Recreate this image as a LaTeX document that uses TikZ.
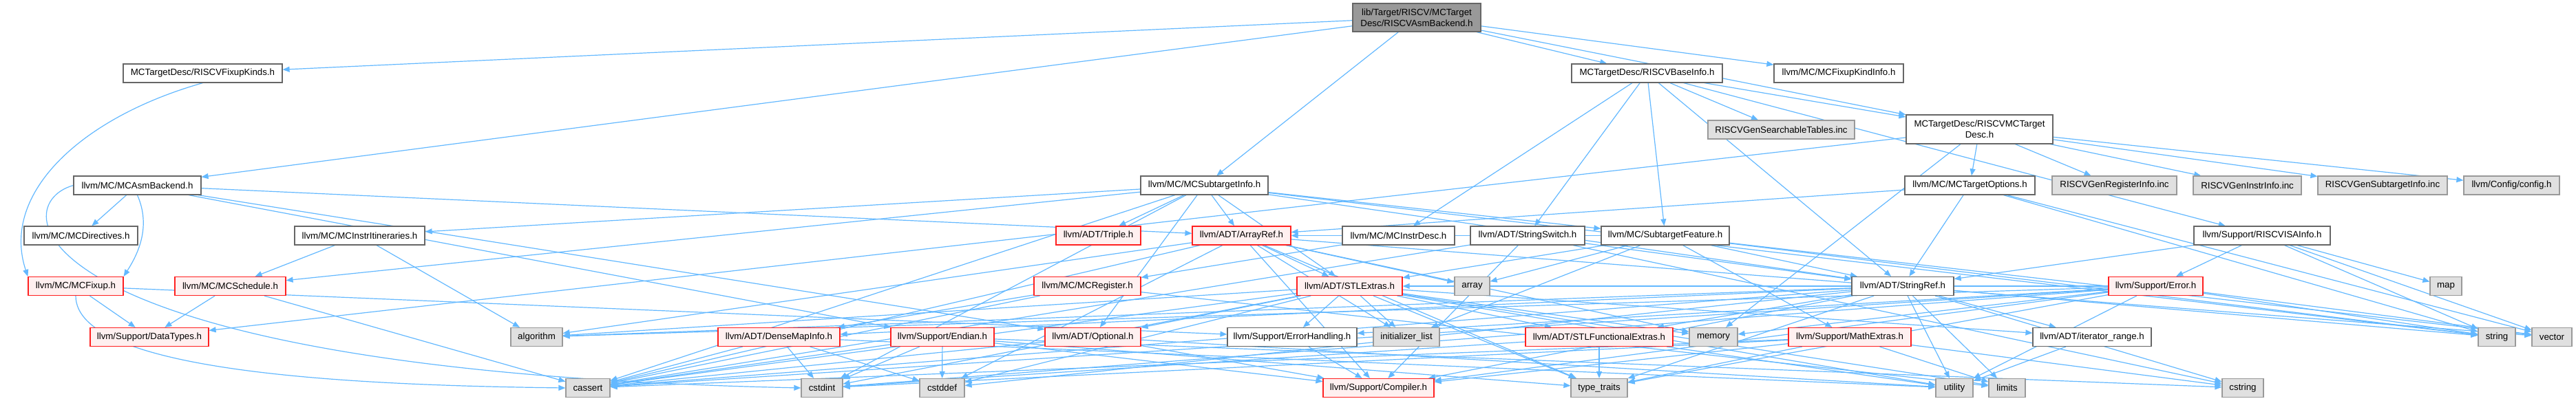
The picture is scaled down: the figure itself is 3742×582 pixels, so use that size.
\documentclass[tikz,border=0pt]{standalone}
\usepackage{fontspec}
\setmainfont{Liberation Sans}
\usetikzlibrary{arrows.meta,backgrounds}
\definecolor{edgec}{HTML}{63B8FF}
\definecolor{wborder}{HTML}{666666}
\definecolor{rfill}{HTML}{FFF0F0}
\definecolor{rborder}{HTML}{FF2020}
\definecolor{gfill}{HTML}{E0E0E0}
\definecolor{gborder}{HTML}{999999}
\definecolor{rootfill}{HTML}{999999}
\tikzset{
  x=1pt, y=-1pt,
  box/.style={rectangle, draw, inner sep=0pt, minimum height=27pt, line width=1.2pt,
     font=\fontsize{13.3}{16}\selectfont, align=center},
  wbox/.style={box, fill=white, draw=wborder},
  rbox/.style={box, fill=rfill, draw=rborder},
  gbox/.style={box, fill=gfill, draw=gborder},
  rootbox/.style={box, fill=rootfill, draw=wborder, minimum height=41pt},
  dep/.style={draw=edgec, line width=1.2pt, -{Triangle[length=10pt,width=8pt]}},
}
\begin{document}
\begin{tikzpicture}
\useasboundingbox (0,0) rectangle (3742,582);
% row 0
\node[rootbox, minimum width=186pt] (root) at (2058,25.5) {lib/Target/RISCV/MCTarget\\Desc/RISCVAsmBackend.h};
% row A
\node[wbox, minimum width=231pt] (fixupkinds) at (294.5,106.5) {MCTargetDesc/RISCVFixupKinds.h};
\node[wbox, minimum width=219pt] (baseinfo) at (2392.5,106.5) {MCTargetDesc/RISCVBaseInfo.h};
\node[wbox, minimum width=188pt] (fixupkindinfo) at (2671,106.5) {llvm/MC/MCFixupKindInfo.h};
% row B
\node[gbox, minimum width=213pt] (searchable) at (2587.5,188.5) {RISCVGenSearchableTables.inc};
\node[wbox, minimum width=213pt, minimum height=42pt] (targetdesc) at (2875.5,188) {MCTargetDesc/RISCVMCTarget\\Desc.h};
% row C
\node[wbox, minimum width=185pt] (asmbackend) at (199.5,269.5) {llvm/MC/MCAsmBackend.h};
\node[wbox, minimum width=185pt] (subtargetinfo) at (1749.5,269.5) {llvm/MC/MCSubtargetInfo.h};
\node[wbox, minimum width=189pt] (targetoptions) at (2861.5,269.5) {llvm/MC/MCTargetOptions.h};
\node[gbox, minimum width=181pt] (reginfo) at (3071.5,269.5) {RISCVGenRegisterInfo.inc};
\node[gbox, minimum width=157pt] (instrinfo) at (3264.5,269.5) {RISCVGenInstrInfo.inc};
\node[gbox, minimum width=188pt] (subinfo) at (3461,269.5) {RISCVGenSubtargetInfo.inc};
\node[gbox, minimum width=139pt] (config) at (3648.5,269.5) {llvm/Config/config.h};
% row D
\node[wbox, minimum width=165pt] (directives) at (117.5,342.5) {llvm/MC/MCDirectives.h};
\node[wbox, minimum width=189pt] (itineraries) at (522.5,342.5) {llvm/MC/MCInstrItineraries.h};
\node[rbox, minimum width=123pt] (triple) at (1595.5,342.5) {llvm/ADT/Triple.h};
\node[rbox, minimum width=143pt] (arrayref) at (1803.5,342.5) {llvm/ADT/ArrayRef.h};
\node[wbox, minimum width=163pt] (instrdesc) at (2031.5,342.5) {llvm/MC/MCInstrDesc.h};
\node[wbox, minimum width=166pt] (stringswitch) at (2219,342.5) {llvm/ADT/StringSwitch.h};
\node[wbox, minimum width=186pt] (subtargetfeature) at (2419,342.5) {llvm/MC/SubtargetFeature.h};
\node[wbox, minimum width=198pt] (isainfo) at (3286,342.5) {llvm/Support/RISCVISAInfo.h};
% row E
\node[rbox, minimum width=138pt] (mcfixup) at (110,416) {llvm/MC/MCFixup.h};
\node[rbox, minimum width=161pt] (schedule) at (334.5,416) {llvm/MC/MCSchedule.h};
\node[rbox, minimum width=155pt] (mcregister) at (1579.5,416) {llvm/MC/MCRegister.h};
\node[rbox, minimum width=153pt] (stlextras) at (1960.5,416) {llvm/ADT/STLExtras.h};
\node[gbox, minimum width=51pt] (array) at (2138.5,416) {array};
\node[wbox, minimum width=148pt] (stringref) at (2764,416) {llvm/ADT/StringRef.h};
\node[rbox, minimum width=137pt] (error) at (3131.5,416) {llvm/Support/Error.h};
\node[gbox, minimum width=46pt] (map) at (3553,416) {map};
% row F
\node[rbox, minimum width=172pt] (datatypes) at (217,490) {llvm/Support/DataTypes.h};
\node[gbox, minimum width=75pt] (algorithm) at (779.5,490) {algorithm};
\node[rbox, minimum width=177pt] (densemapinfo) at (1131.5,490) {llvm/ADT/DenseMapInfo.h};
\node[rbox, minimum width=150pt] (endian) at (1369,490) {llvm/Support/Endian.h};
\node[rbox, minimum width=139pt] (optional) at (1587.5,490) {llvm/ADT/Optional.h};
\node[wbox, minimum width=188pt] (errorhandling) at (1877,490) {llvm/Support/ErrorHandling.h};
\node[gbox, minimum width=96pt] (initlist) at (2043,490) {initializer\_list};
\node[rbox, minimum width=214pt] (stlfunc) at (2323,490) {llvm/ADT/STLFunctionalExtras.h};
\node[gbox, minimum width=70pt] (memory) at (2489,490) {memory};
\node[rbox, minimum width=178pt] (mathextras) at (2687,490) {llvm/Support/MathExtras.h};
\node[wbox, minimum width=172pt] (iterrange) at (3039,490) {llvm/ADT/iterator\_range.h};
\node[gbox, minimum width=54pt] (string) at (3627,490) {string};
\node[gbox, minimum width=58pt] (vector) at (3707,490) {vector};
% row G
\node[gbox, minimum width=64pt] (cassert) at (854,564) {cassert};
\node[gbox, minimum width=60pt] (cstdint) at (1194,564) {cstdint};
\node[gbox, minimum width=65pt] (cstddef) at (1368.5,564) {cstddef};
\node[rbox, minimum width=161pt] (compiler) at (2002.5,564) {llvm/Support/Compiler.h};
\node[gbox, minimum width=82pt] (typetraits) at (2323,564) {type\_traits};
\node[gbox, minimum width=54pt] (utility) at (2839,564) {utility};
\node[gbox, minimum width=53pt] (limits) at (2915.5,564) {limits};
\node[gbox, minimum width=60pt] (cstring) at (3258,564) {cstring};

\begin{scope}[on background layer]
\foreach \a/\b in {
 root/fixupkinds, root/asmbackend, root/subtargetinfo, root/baseinfo, root/fixupkindinfo, root/targetdesc,
 asmbackend/arrayref, asmbackend/optional, asmbackend/directives, asmbackend/endian,
 subtargetinfo/arrayref, subtargetinfo/optional, subtargetinfo/stlextras, subtargetinfo/stringref, subtargetinfo/triple,
 subtargetinfo/itineraries, subtargetinfo/schedule, subtargetinfo/subtargetfeature, subtargetinfo/cassert, subtargetinfo/cstdint, subtargetinfo/string,
 baseinfo/targetdesc, baseinfo/searchable, baseinfo/stringref, baseinfo/stringswitch, baseinfo/instrdesc, baseinfo/subtargetfeature, baseinfo/isainfo,
 targetdesc/config, targetdesc/targetoptions, targetdesc/datatypes, targetdesc/memory, targetdesc/reginfo, targetdesc/instrinfo, targetdesc/subinfo,
 targetoptions/arrayref, targetoptions/stringref, targetoptions/string, targetoptions/vector,
 itineraries/schedule, itineraries/algorithm,
 schedule/datatypes, schedule/cassert,
 mcfixup/datatypes, mcfixup/errorhandling,
 arrayref/stlextras, arrayref/compiler, arrayref/algorithm, arrayref/array, arrayref/cassert, arrayref/cstddef, arrayref/initlist, arrayref/memory, arrayref/typetraits, arrayref/vector,
 stlextras/optional, stlextras/stlfunc, stlextras/iterrange, stlextras/errorhandling, stlextras/algorithm, stlextras/cassert, stlextras/cstddef, stlextras/cstdint, stlextras/initlist, stlextras/limits, stlextras/memory, stlextras/typetraits, stlextras/utility,
 stringref/densemapinfo, stringref/stlfunc, stringref/iterrange, stringref/compiler, stringref/algorithm, stringref/cassert, stringref/cstddef, stringref/cstring, stringref/limits, stringref/string, stringref/typetraits, stringref/utility,
 stringswitch/stringref, stringswitch/compiler, stringswitch/cassert, stringswitch/cstring,
 instrdesc/mcregister,
 subtargetfeature/arrayref, subtargetfeature/stlextras, subtargetfeature/stringref, subtargetfeature/mathextras, subtargetfeature/array, subtargetfeature/initlist, subtargetfeature/string, subtargetfeature/vector,
 mcregister/densemapinfo, mcregister/cassert, mcregister/limits,
 optional/compiler, optional/cassert, optional/utility,
 endian/compiler, endian/cassert, endian/cstddef, endian/cstdint, endian/cstring, endian/typetraits,
 errorhandling/compiler,
 stlfunc/cstdint, stlfunc/typetraits, stlfunc/utility,
 densemapinfo/cassert, densemapinfo/cstddef, densemapinfo/cstdint, densemapinfo/utility,
 iterrange/utility,
 mathextras/compiler, mathextras/cassert, mathextras/cstdint, mathextras/cstring, mathextras/limits, mathextras/typetraits,
 error/stlextras, error/compiler, error/errorhandling, error/algorithm, error/cassert, error/cstdint, error/memory, error/string, error/typetraits, error/utility, error/vector,
 isainfo/stringref, isainfo/error, isainfo/map, isainfo/string, isainfo/vector}
 {\draw[dep] (\a) -- (\b);}
% curved connectors round the left edge
\draw[dep] (fixupkinds.south) .. controls (120,170) and (0,280) .. (mcfixup.north west);
\draw[dep] (asmbackend.south) .. controls (220,330) and (200,370) .. (mcfixup.north east);
\draw[dep] (asmbackend.west) .. controls (0,300) and (40,540) .. (cstdint.west);
\draw[dep] (mcfixup.south) .. controls (110,540) and (500,560) .. (cassert.west);
\end{scope}
\end{tikzpicture}
\end{document}
